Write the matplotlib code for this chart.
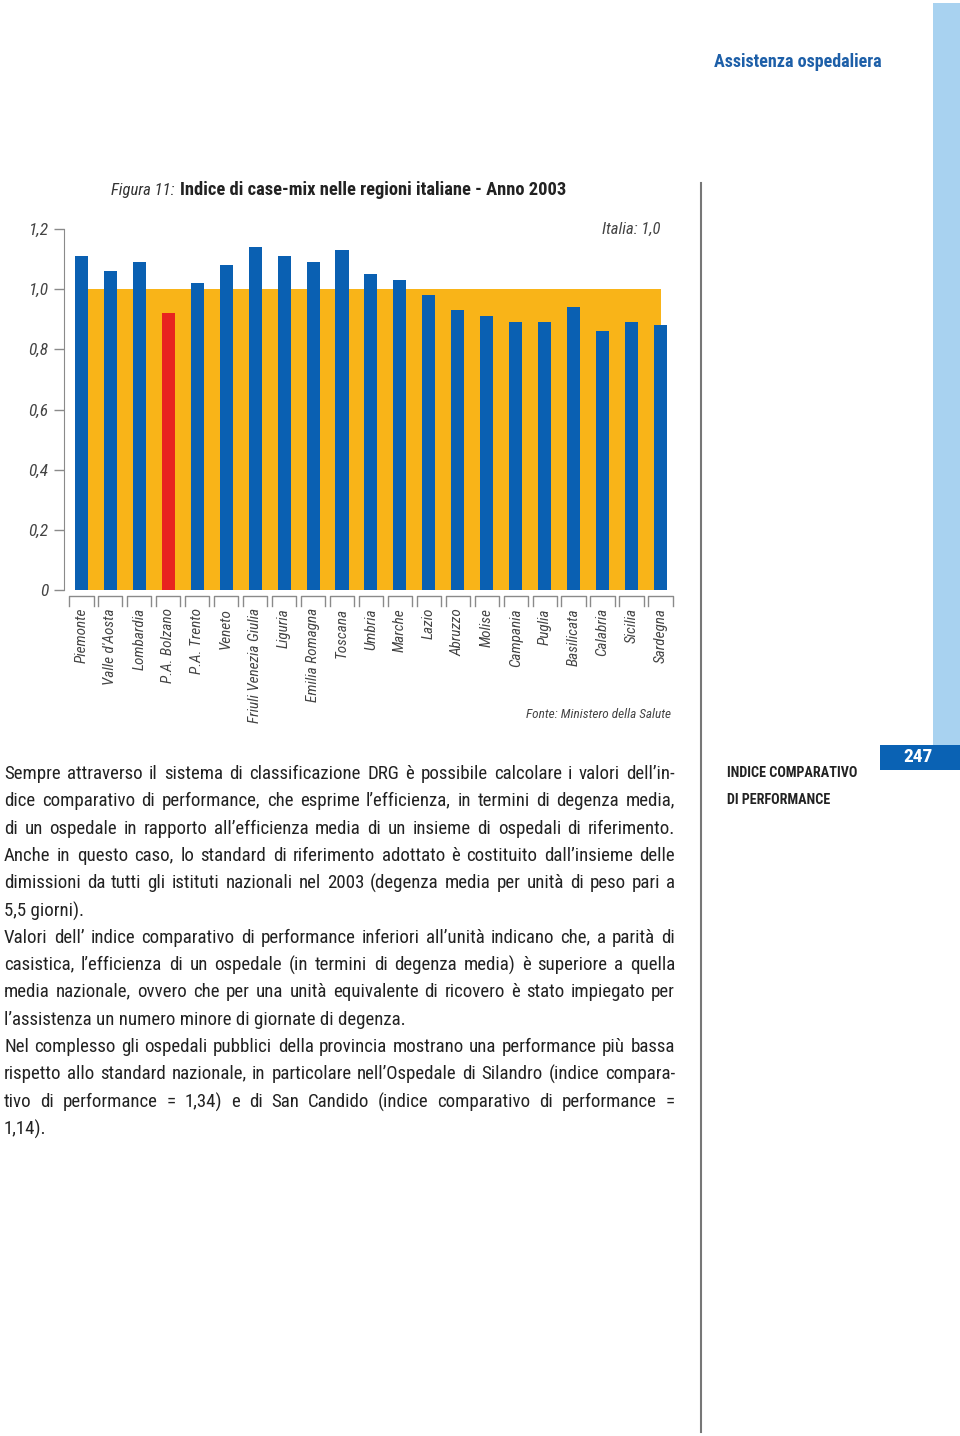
import numpy as np
import matplotlib
matplotlib.use('Agg')
import matplotlib.pyplot as plt
from matplotlib import font_manager
from matplotlib.transforms import blended_transform_factory
from matplotlib.backends.backend_agg import get_hinting_flag

# pick a narrow font if there is one
names = {f.name for f in font_manager.fontManager.ttflist}
narrow = next((n for n in ['Roboto Condensed', 'Liberation Sans Narrow', 'Liberation Sans']
               if n in names), 'DejaVu Sans')
plt.rcParams['font.family'] = [narrow, 'DejaVu Sans']

# data
regions = ['Piemonte', "Valle d'Aosta", 'Lombardia', 'P.A. Bolzano', 'P.A. Trento',
           'Veneto', 'Friuli Venezia Giulia', 'Liguria', 'Emilia Romagna', 'Toscana',
           'Umbria', 'Marche', 'Lazio', 'Abruzzo', 'Molise', 'Campania', 'Puglia',
           'Basilicata', 'Calabria', 'Sicilia', 'Sardegna']
casemix = [1.11, 1.06, 1.09, 0.92, 1.02, 1.08, 1.14, 1.11, 1.09, 1.13, 1.05,
           1.03, 0.98, 0.93, 0.91, 0.89, 0.89, 0.94, 0.86, 0.89, 0.88]
italia = 1.0
yticks = [0, 0.2, 0.4, 0.6, 0.8, 1.0, 1.2]
ytick_labels = ['0', '0,2', '0,4', '0,6', '0,8', '1,0', '1,2']

body_lines = [
    "Sempre attraverso il sistema di classificazione DRG è possibile calcolare i valori dell\u2019in-",
    "dice comparativo di performance, che esprime l\u2019efficienza, in termini di degenza media,",
    "di un ospedale in rapporto all\u2019efficienza media di un insieme di ospedali di riferimento.",
    "Anche in questo caso, lo standard di riferimento adottato è costituito dall\u2019insieme delle",
    "dimissioni da tutti gli istituti nazionali nel 2003 (degenza media per unità di peso pari a",
    "5,5 giorni).",
    "Valori dell\u2019 indice comparativo di performance inferiori all\u2019unità indicano che, a parità di",
    "casistica, l\u2019efficienza di un ospedale (in termini di degenza media) è superiore a quella",
    "media nazionale, ovvero che per una unità equivalente di ricovero è stato impiegato per",
    "l\u2019assistenza un numero minore di giornate di degenza.",
    "Nel complesso gli ospedali pubblici della provincia mostrano una performance più bassa",
    "rispetto allo standard nazionale, in particolare nell\u2019Ospedale di Silandro (indice compara-",
    "tivo di performance = 1,34) e di San Candido (indice comparativo di performance =",
    "1,14).",
]
last_lines = {5, 9, 13}

blue = '#0a60b2'
yellow = '#f9b418'
red = '#e8231f'
grey = '#8a8a8a'
txt = '#333333'

W, H = 960, 1436
fig = plt.figure(figsize=(W / 100, H / 100), dpi=100)
renderer = fig.canvas.get_renderer()

def fx(px):
    return px / W

def fy(py):
    return 1 - py / H

# chart
ax = fig.add_axes([fx(64), fy(590), fx(675 - 64), (590 - 229) / H])
x = np.arange(len(regions))
ax.bar(x[:-1], [italia] * (len(regions) - 1), width=1.0, align='edge',
       color=yellow, zorder=1)
colors = [red if r == 'P.A. Bolzano' else blue for r in regions]
ax.bar(x, casemix, width=0.45, color=colors, zorder=2)

ax.set_xlim(-0.6, 20.5)
ax.set_ylim(0, 1.2)
ax.set_yticks(yticks)
ax.set_yticklabels(ytick_labels, fontstyle='italic', fontsize=12.5, color='#444444')
ax.tick_params(axis='y', direction='out', length=7, width=1, color=grey, pad=4)
ax.set_xticks(x)
ax.set_xticklabels(regions, rotation=90, fontstyle='italic', fontsize=11, color='#444444',
                   va='top', ha='center')
ax.tick_params(axis='x', length=0, pad=13)
for s in ['top', 'right', 'bottom']:
    ax.spines[s].set_visible(False)
ax.spines['left'].set_color(grey)

# brackets under every region
tr = blended_transform_factory(ax.transData, ax.transAxes)
for xi in x:
    ax.plot([xi - 0.42, xi - 0.42, xi + 0.42, xi + 0.42], [-0.045, -0.017, -0.017, -0.045],
            color=grey, lw=1, transform=tr, clip_on=False)

fig.text(fx(661), fy(229), 'Italia: 1,0', ha='right', va='center', fontstyle='italic',
         fontsize=12, color='#444444')
fig.text(fx(671), fy(714), 'Fonte: Ministero della Salute', ha='right', va='center',
         fontstyle='italic', fontsize=9.5, color='#444444')

# title
t1 = fig.text(fx(111), fy(195), 'Figura 11:', ha='left', va='baseline', fontstyle='italic',
              fontsize=12, color=txt)
bb = t1.get_window_extent(renderer)
fig.text(bb.x1 / W + fx(5), fy(195), 'Indice di case-mix nelle regioni italiane - Anno 2003',
         ha='left', va='baseline', fontweight='bold', fontsize=13.3, color='#222222')

# page decorations
fig.add_artist(plt.Rectangle((fx(933), fy(745)), fx(27), (745 - 3) / H,
                             transform=fig.transFigure, color='#a8d2f0', lw=0))
fig.add_artist(plt.Rectangle((fx(880), fy(770)), fx(80), 25 / H,
                             transform=fig.transFigure, color='#0a62b4', lw=0))
fig.text(fx(918), fy(757), '247', ha='center', va='center', fontweight='bold',
         fontsize=14, color='white')
fig.text(fx(714), fy(62), 'Assistenza ospedaliera', ha='left', va='center',
         fontweight='bold', fontsize=13, color='#1d5fa8')
fig.add_artist(plt.Line2D([fx(701), fx(701)], [fy(183), fy(1432)],
                          transform=fig.transFigure, color='#777777', lw=1.5))
fig.text(fx(727), fy(773), 'INDICE COMPARATIVO', ha='left', va='center',
         fontweight='bold', fontsize=10.2, color='#222222')
fig.text(fx(727), fy(800), 'DI PERFORMANCE', ha='left', va='center',
         fontweight='bold', fontsize=10.2, color='#222222')


def put_word(s, xpx, row, fs):
    # agg rounds each text bitmap on its own; shift so all words share one baseline row
    t = fig.text(fx(xpx), fy(row), s, ha='left', va='baseline', fontsize=fs, color='#222222')
    try:
        font = renderer._prepare_font(t.get_fontproperties())
        font.set_text(s, 0, flags=get_hinting_flag())
        w64, h64 = font.get_width_height()
        d64 = font.get_descent()
        yo = font.get_bitmap_offset()[1] / 64
        yb = row + h64 // 64 - (h64 - d64) // 64 - d64 / 64 - yo
        t.set_y(fy(yb))
    except Exception:
        pass
    return t


# body text, justified
left, right = 4, 675
fs = 13.6
for i, line in enumerate(body_lines):
    row = round(779 + i * 27.3)
    if i in last_lines:
        put_word(line, left, row, fs)
        continue
    words = line.split(' ')
    objs = [put_word(w, 0, row, fs) for w in words]
    widths = [o.get_window_extent(renderer).width for o in objs]
    gap = (right - left - sum(widths)) / (len(words) - 1)
    pos = left
    for o, w in zip(objs, widths):
        o.set_x(fx(pos))
        pos += w + gap

fig.savefig('out.png', dpi=100)
